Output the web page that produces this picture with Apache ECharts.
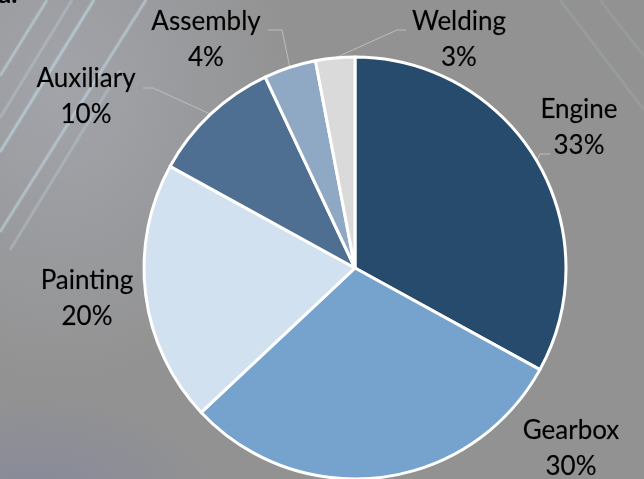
<!DOCTYPE html>
<html>
<head>
<meta charset="utf-8">
<script src="https://cdn.jsdelivr.net/npm/echarts@6/dist/echarts.min.js"></script>
<style>
  html, body { margin: 0; padding: 0; }
  #chart {
    width: 644px; height: 479px;
    background:
      radial-gradient(ellipse 240px 300px at 60px 90px, rgba(172,176,186,0.6), rgba(172,176,186,0) 100%),
      radial-gradient(ellipse 200px 110px at 30px 500px, rgba(128,132,160,0.6), rgba(128,132,160,0) 100%),
      #929292;
  }
</style>
</head>
<body>
<div id="chart"></div>
<script>
// Share of cost by production area (percent)
const categories = ['Engine', 'Gearbox', 'Painting', 'Auxiliary', 'Assembly', 'Welding'];
const shares = [33, 30, 20, 10, 4, 3];
const sliceColors = ['#264b6d', '#75a3cd', '#d1e1ef', '#4e6e92', '#8fa9c4', '#dadada'];

// Label block centres and leader-line elbows / ends (null = no leader line)
const labelCentres = [[579, 128], [571, 449], [87, 299], [86, 97], [206, 40], [459, 40]];
const leaderElbows = [[540, 154], null, null, [153, 88], [282, 30], [397, 30]];
const leaderEnds = [[550, 154], null, null, [143, 88], [268, 30], [406, 30]];

const chart = echarts.init(document.getElementById('chart'), null, { renderer: 'canvas' });

// soft diagonal light streaks in the backdrop
const streaks = [
  [[0, 76], [47, 0], 0.40], [[0, 118], [72, 0], 0.25], [[0, 152], [94, 0], 0.45],
  [[0, 232], [146, 0], 0.40], [[10, 250], [120, 70], 0.25],
  [[560, 0], [644, 110], 0.12], [[600, 0], [644, 56], 0.10]
];
const graphics = streaks.map(function (s) {
  return {
    type: 'line', silent: true, z: 0,
    shape: { x1: s[0][0], y1: s[0][1], x2: s[1][0], y2: s[1][1] },
    style: { stroke: 'rgba(200,224,234,' + s[2] + ')', lineWidth: 3, shadowBlur: 3, shadowColor: 'rgba(200,224,234,' + s[2] + ')' }
  };
});
graphics.push({
  type: 'text', silent: true, z: 1, left: -2, top: -18,
  style: { text: 'a.', fill: '#000', font: 'bold 26px Lato' }
});

chart.setOption({
  animation: false,
  backgroundColor: 'transparent',
  graphic: graphics,
  series: [{
    type: 'pie',
    center: [355, 268],
    radius: 211,
    startAngle: 90,
    clockwise: true,
    avoidLabelOverlap: false,
    percentPrecision: 0,
    itemStyle: { borderColor: '#ffffff', borderWidth: 3 },
    label: {
      show: true,
      position: 'outside',
      formatter: '{b}\n{d}%',
      color: '#000000',
      fontFamily: 'Lato',
      fontSize: 26,
      lineHeight: 36,
      width: 170,
      overflow: 'none',
      align: 'center',
      textBorderColor: 'rgba(0,0,0,0.35)',
      textBorderWidth: 0.4
    },
    labelLine: { show: true, lineStyle: { color: '#bdbdbd', width: 1 } },
    labelLayout: function (p) {
      const i = p.dataIndex;
      const c = labelCentres[i];
      const out = { x: c[0], y: c[1], align: 'center', verticalAlign: 'middle' };
      if (leaderEnds[i] && p.labelLinePoints) {
        out.labelLinePoints = [p.labelLinePoints[0], leaderElbows[i], leaderEnds[i]];
      }
      return out;
    },
    data: categories.map(function (name, i) {
      return {
        name: name,
        value: shares[i],
        itemStyle: { color: sliceColors[i] },
        labelLine: { show: leaderEnds[i] !== null }
      };
    })
  }]
});
</script>
</body>
</html>
